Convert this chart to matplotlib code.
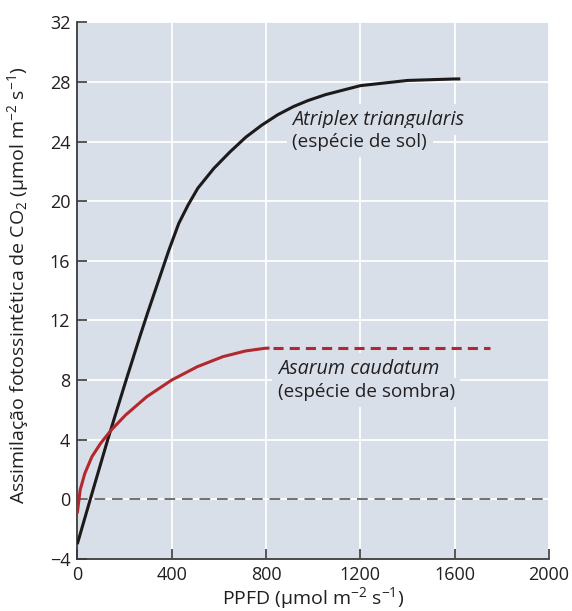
import matplotlib
matplotlib.use("Agg")
import matplotlib.pyplot as plt

plt.rcParams['font.family'] = ['Open Sans', 'DejaVu Sans']
plt.rcParams['mathtext.fontset'] = 'custom'
plt.rcParams['mathtext.rm'] = 'Open Sans'
plt.rcParams['mathtext.it'] = 'Open Sans:italic'
plt.rcParams['axes.unicode_minus'] = True

# ---- data ----
atriplex_ppfd = [0, 55, 129, 205, 265, 298, 388, 430, 470, 511, 579, 647, 715,
                 782, 850, 917, 978, 1053, 1200, 1400, 1600, 1624]
atriplex_a = [-3.0, 0.0, 4.0, 7.9, 10.9, 12.5, 16.7, 18.5, 19.75, 20.87, 22.2, 23.3, 24.3,
              25.1, 25.8, 26.35, 26.75, 27.15, 27.75, 28.1, 28.2, 28.2]

asarum_ppfd = [0, 12, 32, 62, 99, 144, 205, 295, 400, 509, 617, 712, 793, 815]
asarum_a = [-0.94, 0.62, 1.74, 2.86, 3.76, 4.65, 5.66, 6.89, 8.0, 8.9, 9.57, 9.95, 10.13, 10.15]

asarum_ext_ppfd = [830, 1750]
asarum_ext_a = [10.15, 10.15]

x_ticks = [0, 400, 800, 1200, 1600, 2000]
y_ticks = [-4, 0, 4, 8, 12, 16, 20, 24, 28, 32]

label_sun = ["Atriplex triangularis", "(espécie de sol)"]
label_shade = ["Asarum caudatum", "(espécie de sombra)"]

# ---- style ----
bg = '#d8dfe9'
txt = '#231f20'
spine_c = '#3a3a3a'
red = '#b3282d'
fs_tick = 13
fs_lab = 14
fs_ann = 13.6
fs_ann_it = 14.2

fig = plt.figure(figsize=(5.72, 6.11), dpi=100)
ax = fig.add_axes([0.1351, 0.0851, 0.8247, 0.8784])
ax.set_facecolor(bg)
ax.set_xlim(0, 2000)
ax.set_ylim(-4, 32)
ax.set_xticks(x_ticks)
ax.set_yticks(y_ticks)
ax.grid(True, color='white', linewidth=1.3, zorder=0)
ax.set_axisbelow(True)

for s in ['top', 'right']:
    ax.spines[s].set_visible(False)
for s in ['left', 'bottom']:
    ax.spines[s].set_color(spine_c)
    ax.spines[s].set_linewidth(1.3)

ax.tick_params(direction='in', length=7, width=1.2, color=spine_c,
               labelsize=fs_tick, labelcolor=txt, pad=5)

ax.axhline(0, color='#707070', linewidth=1.4, dashes=(5.5, 3.5), zorder=1)

ax.plot(atriplex_ppfd, atriplex_a, color='#1c1a1a', linewidth=2.2,
        solid_capstyle='butt', solid_joinstyle='round', zorder=3)
ax.plot(asarum_ppfd, asarum_a, color=red, linewidth=2.2,
        solid_capstyle='butt', solid_joinstyle='round', zorder=3)
ax.plot(asarum_ext_ppfd, asarum_ext_a, color=red, linewidth=2.2,
        dashes=(3.3, 2.0), zorder=3)

bb = dict(facecolor=bg, edgecolor='none', pad=4)
ax.text(912, 25.45, label_sun[0], style='italic', fontsize=fs_ann_it, color=txt,
        ha='left', va='center', bbox=bb, zorder=2)
ax.text(912, 23.95, label_sun[1], fontsize=fs_ann, color=txt,
        ha='left', va='center', bbox=bb, zorder=2)
ax.text(850, 8.75, label_shade[0], style='italic', fontsize=fs_ann_it, color=txt,
        ha='left', va='center', bbox=bb, zorder=2)
ax.text(850, 7.2, label_shade[1], fontsize=fs_ann, color=txt,
        ha='left', va='center', bbox=bb, zorder=2)

ax.set_xlabel(r'PPFD (µmol m$^{-2}$ s$^{-1}$)', fontsize=fs_lab, color=txt, labelpad=1)
ax.set_ylabel(r'Assimilação fotossintética de CO$_2$ (µmol m$^{-2}$ s$^{-1}$)',
              fontsize=fs_lab, color=txt)
ax.yaxis.set_label_coords(-0.098, 0.51)

fig.savefig('out.png', dpi=100, facecolor='white')
